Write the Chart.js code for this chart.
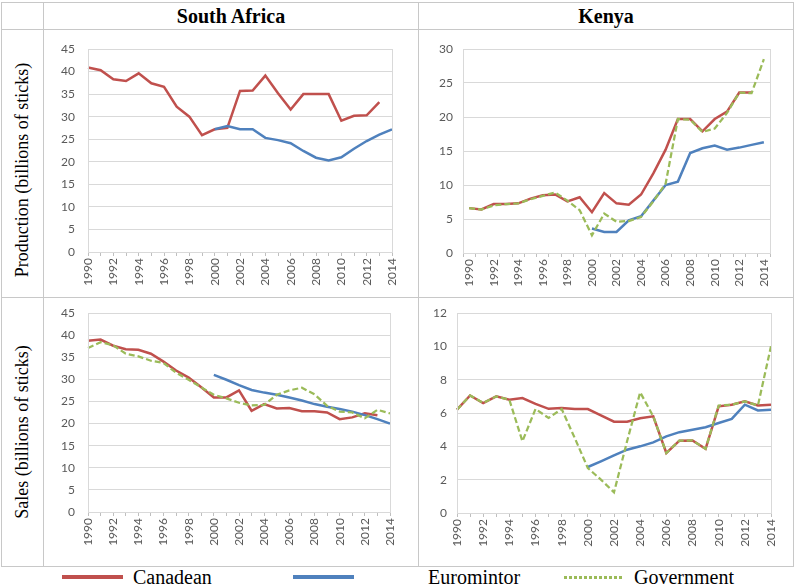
<!DOCTYPE html>
<html>
<head>
<meta charset="utf-8">
<script src="https://cdn.jsdelivr.net/npm/chart.js@4.4.0/dist/chart.umd.min.js"></script>
<style>
  body { margin: 0; background: #fff; width: 796px; height: 588px; position: relative; overflow: hidden;
         font-family: "Liberation Serif", "Times New Roman", serif; color: #000; }
  .rule { position: absolute; background: #c8c8c8; }
  .box { position: absolute; }
  .hdr { position: absolute; top: 4px; height: 24px; line-height: 24px; font-weight: bold; font-size: 20px; text-align: center; }
  .rowlab { position: absolute; font-size: 18px; white-space: nowrap; transform: translate(-50%, -50%) rotate(-90deg); }
  .leg { position: absolute; top: 565px; font-size: 20px; line-height: 24px; }
  .swatch { position: absolute; top: 575px; height: 4px; }
</style>
</head>
<body>

<!-- table frame -->
<div class="rule" style="left:1px;top:2px;width:793px;height:1px"></div>
<div class="rule" style="left:1px;top:29px;width:793px;height:1px"></div>
<div class="rule" style="left:1px;top:297px;width:793px;height:1px"></div>
<div class="rule" style="left:1px;top:566px;width:793px;height:1px"></div>
<div class="rule" style="left:1px;top:2px;width:1px;height:565px"></div>
<div class="rule" style="left:43px;top:2px;width:1px;height:565px"></div>
<div class="rule" style="left:418px;top:2px;width:1px;height:565px"></div>
<div class="rule" style="left:793px;top:2px;width:1px;height:565px"></div>

<div class="hdr" style="left:44px;width:374px">South Africa</div>
<div class="hdr" style="left:419px;width:374px">Kenya</div>
<div class="rowlab" style="left:22px;top:170px">Production (billions of sticks)</div>
<div class="rowlab" style="left:22px;top:432px">Sales (billions of sticks)</div>

<div class="box" style="left:43px;top:27px;width:367px;height:263px"><canvas id="saProd"></canvas></div>
<div class="box" style="left:418px;top:27px;width:370px;height:264px"><canvas id="kenProd"></canvas></div>
<div class="box" style="left:43px;top:291px;width:365px;height:259px"><canvas id="saSales"></canvas></div>
<div class="box" style="left:412px;top:291px;width:377px;height:260px"><canvas id="kenSales"></canvas></div>

<!-- shared legend -->
<div class="swatch" style="left:62px;width:61px;background:#c0504d"></div>
<div class="leg" style="left:133px">Canadean</div>
<div class="swatch" style="left:293px;width:61px;background:#4f81bd"></div>
<div class="leg" style="left:428px">Euromintor</div>
<div class="swatch" style="left:564px;width:59px;height:3px;top:576px;background:repeating-linear-gradient(90deg,#9bbb59 0 3px,transparent 3px 5px)"></div>
<div class="leg" style="left:634px">Government</div>

<script>
const years = ['1990','1991','1992','1993','1994','1995','1996','1997','1998','1999','2000','2001','2002',
               '2003','2004','2005','2006','2007','2008','2009','2010','2011','2012','2013','2014'];

// South Africa production
const saProdCanadean = [40.9,40.3,38.3,37.9,39.6,37.4,36.6,32.2,30.0,25.9,27.2,27.5,35.7,35.8,39.1,35.2,31.6,35.0,35.0,35.0,29.1,30.2,30.3,33.2,null];
const saProdEuromonitor = [null,null,null,null,null,null,null,null,null,null,27.2,27.9,27.2,27.2,25.3,24.8,24.1,22.4,20.9,20.3,21.0,22.9,24.6,26.0,27.2];

// Kenya production
const kenProdCanadean = [6.6,6.4,7.2,7.2,7.3,8.0,8.5,8.6,7.6,8.2,6.0,8.8,7.3,7.1,8.6,11.7,15.2,19.7,19.7,17.9,19.7,20.8,23.6,23.6,null];
const kenProdEuromonitor = [null,null,null,null,null,null,null,null,null,null,3.6,3.1,3.1,4.8,5.4,7.7,10.0,10.5,14.7,15.4,15.8,15.2,15.5,15.9,16.3];
const kenProdGovernment = [6.6,6.4,7.0,7.2,7.3,7.9,8.4,8.9,7.7,6.3,2.6,5.8,4.6,4.7,5.3,7.6,10.2,19.7,19.6,17.8,18.3,20.6,23.6,23.5,28.5];

// South Africa sales
const saSalesCanadean = [38.7,39.0,37.6,36.8,36.7,35.8,34.0,32.0,30.4,28.2,25.9,25.9,27.5,22.9,24.4,23.4,23.5,22.8,22.8,22.5,21.0,21.4,22.3,21.9,null];
const saSalesEuromonitor = [null,null,null,null,null,null,null,null,null,null,31.0,29.9,28.7,27.6,27.0,26.5,25.9,25.2,24.4,23.8,23.3,22.7,21.9,21.0,20.0];
const saSalesGovernment = [37.1,38.4,37.7,35.8,35.2,34.2,33.7,31.5,29.9,28.2,26.5,25.7,24.7,24.1,24.2,26.5,27.5,28.1,26.6,24.0,22.7,22.5,21.2,23.1,22.3];

// Kenya sales
const kenSalesCanadean = [6.2,7.05,6.6,7.0,6.8,6.9,6.55,6.25,6.3,6.24,6.24,5.86,5.48,5.48,5.68,5.8,3.6,4.34,4.35,3.85,6.4,6.5,6.7,6.45,6.5];
const kenSalesEuromonitor = [null,null,null,null,null,null,null,null,null,null,2.76,3.1,3.46,3.8,4.0,4.24,4.6,4.85,5.0,5.15,5.4,5.65,6.5,6.15,6.2];
const kenSalesGovernment = [6.2,7.05,6.6,7.0,6.8,4.3,6.24,5.7,6.24,4.5,2.7,2.0,1.24,4.3,7.24,5.8,3.6,4.34,4.35,3.85,6.45,6.5,6.7,6.45,10.0];

const tickFont = { family: 'Lato, "Open Sans", sans-serif', size: 12 };
const gridGrey = '#d9d9d9';

// Excel-style border round the plot area
const plotBorder = {
  id: 'plotBorder',
  afterDraw(chart) {
    const a = chart.chartArea, ctx = chart.ctx;
    ctx.save();
    ctx.strokeStyle = gridGrey;
    ctx.lineWidth = 1;
    ctx.strokeRect(Math.round(a.left) + 0.5, Math.round(a.top) + 0.5, Math.round(a.right - a.left), Math.round(a.bottom - a.top));
    ctx.restore();
  }
};

function series(label, values, color, dashed, order) {
  return {
    label: label, data: values, borderColor: color, backgroundColor: color,
    borderWidth: dashed ? 2.25 : 2.5, borderDash: dashed ? [6, 3] : [],
    pointRadius: 0, tension: 0, spanGaps: false, order: order
  };
}

// padding top/right is fixed (22/18) so the plot area lands where the boxes put it
function drawChart(id, datasets, maxY, step, between, labelPad) {
  new Chart(document.getElementById(id), {
    type: 'line',
    data: { labels: years, datasets: datasets },
    options: {
      responsive: true, maintainAspectRatio: false, animation: false,
      layout: { padding: { top: 22, right: 18, left: 0, bottom: 0 } },
      plugins: { legend: { display: false }, tooltip: { enabled: false } },
      scales: {
        x: {
          offset: between,
          afterFit(scale) { scale.height = 38; },
          grid: { drawOnChartArea: false, drawTicks: true, tickLength: 4, color: '#bfbfbf', offset: between },
          border: { color: '#bfbfbf' },
          ticks: {
            autoSkip: false, minRotation: 90, maxRotation: 90, padding: 2,
            color: '#595959', font: tickFont,
            callback(v, i) { return i % 2 === 0 ? years[i] : ''; }
          }
        },
        y: {
          min: 0, max: maxY,
          afterFit(scale) { scale.width = 45; },
          grid: { color: gridGrey, drawTicks: false },
          border: { display: false },
          ticks: { stepSize: step, padding: labelPad, color: '#595959', font: tickFont }
        }
      }
    },
    plugins: [plotBorder]
  });
}

drawChart('saProd', [
  series('Canadean', saProdCanadean, '#c0504d', false, 2),
  series('Euromintor', saProdEuromonitor, '#4f81bd', false, 1)
], 45, 5, false, 13);

drawChart('kenProd', [
  series('Canadean', kenProdCanadean, '#c0504d', false, 2),
  series('Euromintor', kenProdEuromonitor, '#4f81bd', false, 1),
  series('Government', kenProdGovernment, '#9bbb59', true, 0)
], 30, 5, true, 10);

drawChart('saSales', [
  series('Canadean', saSalesCanadean, '#c0504d', false, 2),
  series('Euromintor', saSalesEuromonitor, '#4f81bd', false, 1),
  series('Government', saSalesGovernment, '#9bbb59', true, 0)
], 45, 5, false, 13);

drawChart('kenSales', [
  series('Canadean', kenSalesCanadean, '#c0504d', false, 2),
  series('Euromintor', kenSalesEuromonitor, '#4f81bd', false, 1),
  series('Government', kenSalesGovernment, '#9bbb59', true, 0)
], 12, 2, false, 10);
</script>
</body>
</html>
